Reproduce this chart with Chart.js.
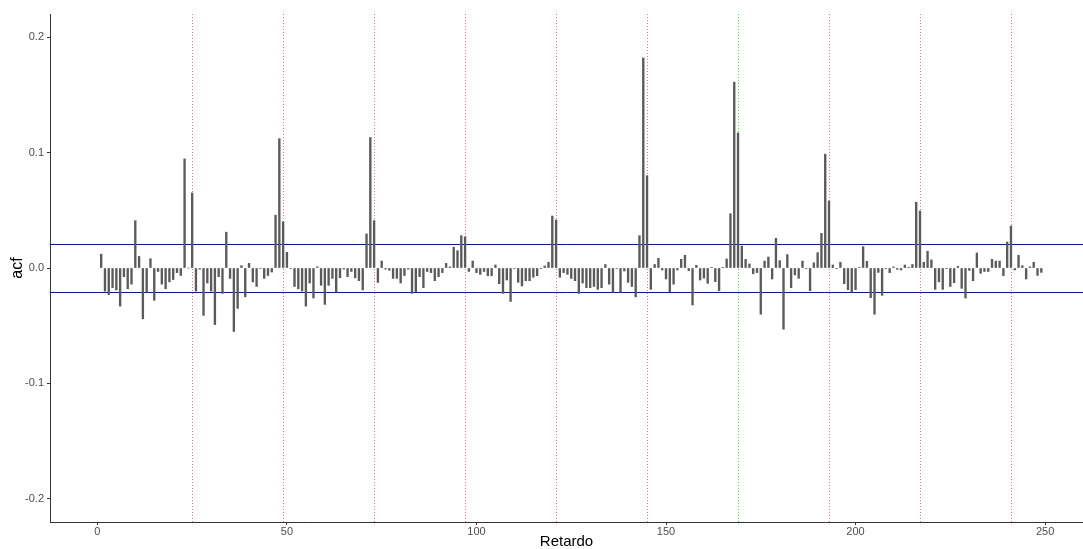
<!DOCTYPE html>
<html>
<head>
<meta charset="utf-8">
<script src="https://cdn.jsdelivr.net/npm/chart.js@4.4.1/dist/chart.umd.min.js"></script>
<style>
  html, body { margin: 0; padding: 0; background: #fff; }
  canvas { display: block; }
</style>
</head>
<body>
<canvas id="acfChart" width="1083" height="549"></canvas>
<script>
// sample autocorrelation, lag k is stored at index k-1 (lags 1..249)
const acfValues = [
     0.012, -0.020, -0.023, -0.017, -0.019, -0.033, -0.0075, -0.018, -0.014,  0.041,
     0.010, -0.044, -0.021,  0.008, -0.028, -0.003, -0.014, -0.018, -0.012, -0.010,
    -0.004, -0.0065, 0.0945, 0.000,  0.065, -0.020, -0.001, -0.041, -0.013, -0.020,
    -0.049, -0.0075, -0.022, 0.031, -0.009, -0.055, -0.035,  0.002, -0.025,  0.004,
    -0.012, -0.016, -0.0005, -0.009, -0.0065, -0.0035, 0.0457, 0.112, 0.040, 0.0136,
    -0.0005, -0.016, -0.018, -0.020, -0.033, -0.013, -0.026,  0.001, -0.015, -0.0315,
    -0.015, -0.009, -0.021, -0.0085, -0.001, -0.0075, -0.003, -0.0085, -0.011, -0.019,
     0.0295, 0.113, 0.041, -0.0125, 0.006, -0.001, -0.002, -0.009, -0.009, -0.013,
    -0.0065, -0.001, -0.022, -0.0205, -0.0075, -0.017, -0.003, -0.004, -0.011, -0.0075,
    -0.004,  0.004,  0.001,  0.018,  0.015,  0.028,  0.027, -0.003,  0.006, -0.004,
    -0.0055, -0.003, -0.0067, -0.0067, 0.0026, -0.0136, -0.022, -0.0104, -0.029, -0.0005,
    -0.0124, -0.0156, -0.011, -0.011, -0.008, -0.0067, -0.0006, 0.0017, 0.005, 0.045,
     0.0416, -0.008, -0.004, -0.0055, -0.009, -0.011, -0.022, -0.013, -0.017, -0.017,
    -0.016, -0.0185, -0.017,  0.003, -0.014, -0.021, -0.0005, -0.021, -0.0026, -0.0124,
    -0.016, -0.025,  0.028,  0.182,  0.080, -0.0185, 0.003,  0.0084, -0.0017, -0.0095,
    -0.0205, -0.014, -0.0017, 0.0075, 0.011, -0.0023, -0.032, 0.0023, -0.0104, -0.0087,
    -0.0133, 0.0006, -0.0118, -0.0197, 0.0006, 0.0078, 0.047,  0.161,  0.117,  0.019,
     0.0075, 0.0035, -0.005, -0.004, -0.040,  0.006,  0.0095, -0.0095, 0.0257, 0.0064,
    -0.053,  0.0116, -0.017, -0.006, -0.009,  0.006, -0.0005, -0.0197, 0.0045, 0.0133,
     0.030,  0.0986, 0.058,  0.0026, -0.0006, 0.005, -0.0136, -0.0188, -0.021, -0.0188,
     0.0006, 0.0185, 0.0058, -0.0257, -0.040, -0.0038, -0.0237, -0.0003, -0.004, 0.001,
    -0.0012, -0.0017, 0.0026, 0.0003, 0.003,  0.057,  0.0494, 0.005,  0.0145, 0.007,
    -0.0185, -0.012, -0.0185, -0.0006, -0.016, -0.0127, 0.0014, -0.0176, -0.026, -0.002,
    -0.011,  0.013, -0.0046, -0.003, -0.003,  0.0075, 0.006,  0.006, -0.0067, 0.0225,
     0.0364, -0.0017, 0.011, 0.002, -0.0095, 0.001,  0.005, -0.0064, -0.0038
];
const confLimit = 0.0212;                 // +/- 1.96/sqrt(n)
const seasonLines = [25, 49, 73, 97, 121, 145, 169, 193, 217, 241];
const greenLine = 169;
const xTicks = [0, 50, 100, 150, 200, 250];
const yTicks = [-0.2, -0.1, 0, 0.1, 0.2];

const points = acfValues.map((v, i) => ({ x: i + 1, y: v }));

const FONT = '"Liberation Sans", Arial, sans-serif';

// blue confidence band and the dotted seasonal markers
const refLines = {
    id: 'refLines',
    beforeDatasetsDraw(chart) {
        const { ctx, chartArea: area, scales: { x, y } } = chart;
        ctx.save();
        ctx.beginPath();
        ctx.rect(area.left, area.top, area.right - area.left, area.bottom - area.top);
        ctx.clip();

        ctx.lineWidth = 1;
        ctx.setLineDash([1, 2]);
        seasonLines.forEach(lag => {
            const px = Math.round(x.getPixelForValue(lag)) + 0.5;
            ctx.strokeStyle = lag === greenLine ? 'rgba(0, 220, 0, 0.7)' : 'rgba(255, 40, 40, 0.65)';
            ctx.beginPath();
            ctx.moveTo(px, area.top);
            ctx.lineTo(px, area.bottom);
            ctx.stroke();
        });

        ctx.setLineDash([]);
        [confLimit, -confLimit].forEach(v => {
            const py = Math.round(y.getPixelForValue(v)) + 0.5;
            ctx.strokeStyle = 'rgb(0, 0, 255)';
            ctx.beginPath();
            ctx.moveTo(area.left, py);
            ctx.lineTo(area.right, py);
            ctx.stroke();
        });
        ctx.restore();
    }
};

new Chart(document.getElementById('acfChart'), {
    type: 'bar',
    data: {
        datasets: [{
            data: points,
            backgroundColor: '#5a5a5a',
            borderWidth: 0,
            barThickness: 1.7
        }]
    },
    options: {
        responsive: false,
        animation: false,
        devicePixelRatio: 1,
        layout: { padding: { top: 14, right: 0, bottom: 0, left: 0 } },
        plugins: {
            legend: { display: false },
            tooltip: { enabled: false }
        },
        scales: {
            x: {
                type: 'linear',
                min: -12.5,
                max: 260,
                offset: false,
                afterBuildTicks: s => { s.ticks = xTicks.map(v => ({ value: v })); },
                afterFit: s => { s.height = 27; },
                grid: { display: true, offset: false, drawOnChartArea: false, drawTicks: true, tickLength: 3, color: '#333' },
                border: { display: true, color: '#333', width: 1 },
                ticks: { color: '#4d4d4d', font: { family: FONT, size: 11 }, padding: 0, maxRotation: 0 },
                title: {
                    display: true, text: 'Retardo', color: '#000',
                    font: { family: FONT, size: 15, lineHeight: 1 },
                    padding: { top: 0, bottom: 0 }
                }
            },
            y: {
                min: -0.22,
                max: 0.22,
                afterBuildTicks: s => { s.ticks = yTicks.map(v => ({ value: v })); },
                afterFit: s => { s.width = 50; },
                grid: { display: true, drawOnChartArea: false, drawTicks: true, tickLength: 3, color: '#333' },
                border: { display: true, color: '#333', width: 1 },
                ticks: {
                    color: '#4d4d4d', font: { family: FONT, size: 11 }, padding: 3,
                    callback: v => v.toFixed(1)
                },
                title: {
                    display: true, text: 'acf', color: '#000',
                    font: { family: FONT, size: 16, lineHeight: 1 },
                    padding: { top: 10, bottom: 0 }
                }
            }
        }
    },
    plugins: [refLines]
});
</script>
</body>
</html>
